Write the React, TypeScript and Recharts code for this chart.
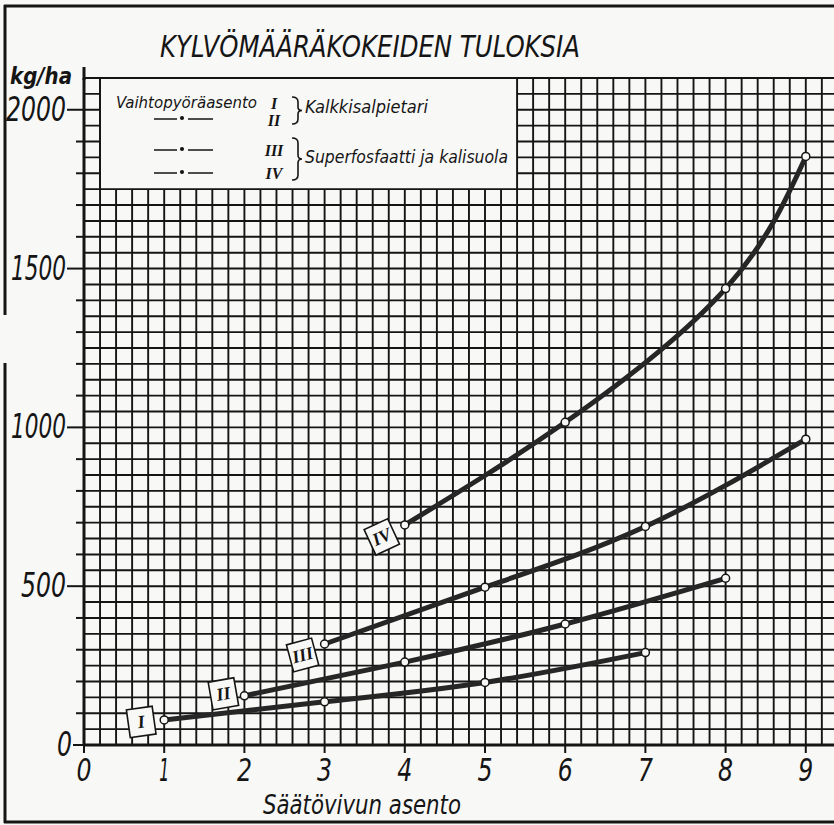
import React from "react"
import { LineChart, Line, XAxis, YAxis, CartesianGrid, ReferenceArea, LabelList } from "recharts"

// säätövivun asento (x) ja kylvömäärä kg/ha (y), luettu kuvasta
const positions = [0, 1, 2, 3, 4, 5, 6, 7, 8, 9]
const yTicks = [0, 100, 200, 300, 400, 500, 600, 700, 800, 900, 1000, 1100, 1200, 1300, 1400, 1500, 1600, 1700, 1800, 1900, 2000]

const xI = [1, 3, 5, 7]
const yI = [79, 136, 197, 291]
const xII = [2, 4, 6, 8]
const yII = [155, 261, 381, 525]
const xIII = [3, 5, 7, 9]
const yIII = [318, 497, 688, 963]
const xIV = [4, 6, 8, 9]
const yIV = [693, 1016, 1437, 1853]

const numerals = ["I", "II", "III", "IV"]

const toRows = (xs: number[], ys: number[]) => xs.map((x, i) => ({ x, y: ys[i] }))

// millimetripaperin viivat: 0.2 yksikön ja 50 kg/ha välein
const gridX = Array.from({ length: 50 }, (_, i) => Math.round((i + 1) * 2) / 10)
const gridY = Array.from({ length: 42 }, (_, i) => (i + 1) * 50)

const PAPER = "#f8f8f6"
const INK = "#151515"
const FONT = "'Liberation Sans Narrow','DejaVu Sans Condensed','Liberation Sans',sans-serif"

// kapea piirustuskirjaimisto: numerot puristetaan leveyteen
const digitsWidth = (s: string) => s.split("").reduce((w, c) => w + (c === "1" ? 10 : 15), 0)

const YTick = (props: any) => {
  const { x, y, payload } = props
  const v = payload.value
  const major = v % 500 === 0
  const dash = v === 0 ? 11 : major ? 17 : 8
  const label = String(v)
  return (
    <g>
      <line x1={x - dash} x2={x} y1={y} y2={y} stroke={INK} strokeWidth={2} />
      {major && (
        <text x={x - dash - 1} y={y + 11} textAnchor="end" fontFamily={FONT} fontStyle="italic" fontSize={34} fill={INK}
          textLength={digitsWidth(label)} lengthAdjust="spacingAndGlyphs">
          {label}
        </text>
      )}
    </g>
  )
}

const XTick = (props: any) => {
  const { x, y, payload } = props
  const label = String(payload.value)
  return (
    <g>
      <line x1={x} x2={x} y1={y} y2={y + 8} stroke={INK} strokeWidth={2} />
      <text x={x} y={y + 36} textAnchor="middle" fontFamily={FONT} fontStyle="italic" fontSize={32} fill={INK}
        textLength={digitsWidth(label)} lengthAdjust="spacingAndGlyphs">
        {label}
      </text>
    </g>
  )
}

const numeralBox = (label: string, dx: number, dy: number, angle: number) => (props: any) => {
  const { x, y, index } = props
  if (index !== 0) return null
  const cx = x + dx
  const cy = y + dy
  return (
    <g transform={`rotate(${angle} ${cx} ${cy})`}>
      <rect x={cx - 13} y={cy - 14} width={26} height={28} fill={PAPER} stroke={INK} strokeWidth={1.6} />
      <text x={cx} y={cy + 6} textAnchor="middle" fontFamily="'Liberation Serif',serif" fontStyle="italic" fontWeight="bold" fontSize={18} fill={INK}>
        {label}
      </text>
    </g>
  )
}

const series = [
  { rows: toRows(xI, yI), box: numeralBox(numerals[0], -23, 2, -8) },
  { rows: toRows(xII, yII), box: numeralBox(numerals[1], -21, -2, -10) },
  { rows: toRows(xIII, yIII), box: numeralBox(numerals[2], -22, 11, -15) },
  { rows: toRows(xIV, yIV), box: numeralBox(numerals[3], -23, 12, -25) },
]

function DashDot({ y }: { y: number }) {
  return (
    <g stroke={INK} strokeWidth={1.5}>
      <line x1={154} x2={177} y1={y} y2={y} />
      <circle cx={182} cy={y - 1} r={1.3} fill={INK} />
      <line x1={188} x2={213} y1={y} y2={y} />
    </g>
  )
}

export default function App() {
  return (
    <div style={{ position: "fixed", left: 0, top: 0, width: 834, height: 825, overflow: "hidden", background: PAPER }}>
      <LineChart width={900} height={825} margin={{ top: 78, right: 14, bottom: 0, left: 0 }}>
        <CartesianGrid stroke={INK} strokeWidth={1.9} verticalValues={gridX} horizontalValues={gridY} />
        <XAxis
          type="number"
          dataKey="x"
          domain={[0, 10]}
          ticks={positions}
          interval={0}
          allowDataOverflow
          height={80}
          tickSize={0}
          tickMargin={0}
          tickLine={false}
          axisLine={{ stroke: INK, strokeWidth: 3 }}
          tick={<XTick />}
        />
        <YAxis
          type="number"
          domain={[0, 2100]}
          ticks={yTicks}
          interval={0}
          allowDataOverflow
          width={84}
          tickSize={0}
          tickMargin={0}
          tickLine={false}
          axisLine={{ stroke: INK, strokeWidth: 3 }}
          tick={<YTick />}
        />
        <ReferenceArea x1={0.2} x2={5.4} y1={1750} y2={2100} fill={PAPER} fillOpacity={1} stroke={INK} strokeWidth={1.9} />
        {series.map((s, i) => (
          <Line
            key={numerals[i]}
            data={s.rows}
            dataKey="y"
            type="natural"
            stroke="#262626"
            strokeWidth={5}
            dot={{ r: 4, fill: PAPER, stroke: INK, strokeWidth: 1.5 }}
            activeDot={false}
            isAnimationActive={false}
          >
            <LabelList dataKey="y" content={s.box} />
          </Line>
        ))}
      </LineChart>

      <svg width={834} height={825} style={{ position: "absolute", left: 0, top: 0, pointerEvents: "none" }}>
        {/* kehys */}
        <line x1={4} x2={834} y1={6} y2={6} stroke={INK} strokeWidth={3} />
        <line x1={4} x2={834} y1={822} y2={822} stroke={INK} strokeWidth={3} />
        <line x1={5} x2={5} y1={5} y2={315} stroke={INK} strokeWidth={3} />
        <line x1={5} x2={5} y1={363} y2={823} stroke={INK} strokeWidth={3} />
        <line x1={84} x2={84} y1={67} y2={80} stroke={INK} strokeWidth={3} />

        <text x={160} y={57} fontFamily={FONT} fontStyle="italic" fontSize={31} fill={INK} textLength={420} lengthAdjust="spacingAndGlyphs">
          KYLVÖMÄÄRÄKOKEIDEN TULOKSIA
        </text>
        <text x={10} y={84} fontFamily={FONT} fontStyle="italic" fontWeight="bold" fontSize={23} fill={INK} textLength={62} lengthAdjust="spacingAndGlyphs">
          kg/ha
        </text>
        <text x={263} y={814} fontFamily={FONT} fontStyle="italic" fontSize={26} fill={INK} textLength={198} lengthAdjust="spacingAndGlyphs">
          Säätövivun asento
        </text>

        {/* selite */}
        <text x={116} y={108} fontFamily={FONT} fontStyle="italic" fontSize={15} fill={INK} textLength={141} lengthAdjust="spacingAndGlyphs">
          Vaihtopyöräasento
        </text>
        <DashDot y={119} />
        <DashDot y={150} />
        <DashDot y={173} />
        <g fontFamily="'Liberation Serif',serif" fontStyle="italic" fontWeight="bold" fontSize={16} fill={INK} textAnchor="middle">
          <text x={274} y={109}>{numerals[0]}</text>
          <text x={274} y={126}>{numerals[1]}</text>
          <text x={274} y={156}>{numerals[2]}</text>
          <text x={274} y={179}>{numerals[3]}</text>
        </g>
        <g fill="none" stroke={INK} strokeWidth={1.6}>
          <path d="M292,97 Q298,97 298,102 L298,107 Q298,110.5 302,110.5 Q298,110.5 298,114 L298,119 Q298,124 292,124" />
          <path d="M292,138 Q298,138 298,143 L298,155 Q298,159 302,159 Q298,159 298,163 L298,175 Q298,180 292,180" />
        </g>
        <text x={305} y={113} fontFamily={FONT} fontStyle="italic" fontSize={18} fill={INK} textLength={123} lengthAdjust="spacingAndGlyphs">
          Kalkkisalpietari
        </text>
        <text x={305} y={163} fontFamily={FONT} fontStyle="italic" fontSize={18} fill={INK} textLength={203} lengthAdjust="spacingAndGlyphs">
          Superfosfaatti ja kalisuola
        </text>
      </svg>
    </div>
  )
}
